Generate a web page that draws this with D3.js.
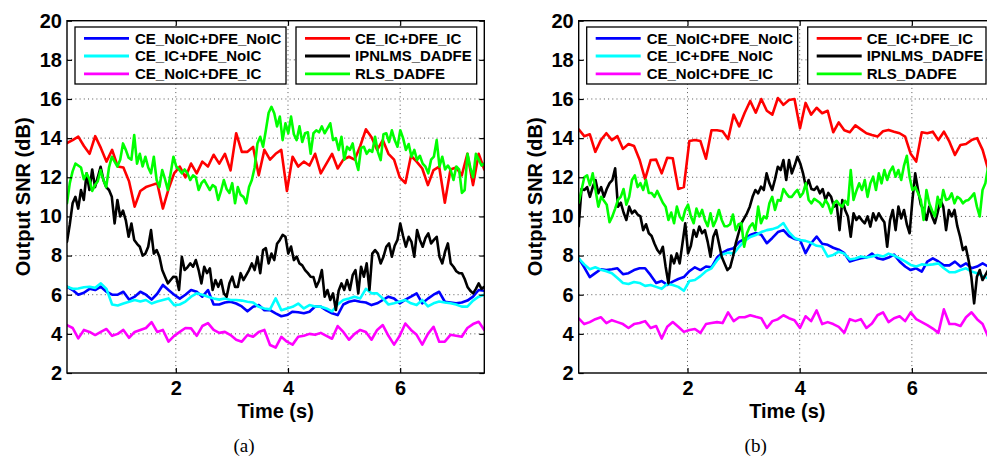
<!DOCTYPE html>
<html><head><meta charset="utf-8">
<script src="https://cdn.jsdelivr.net/npm/d3@7"></script>
<style>body{margin:0;background:#fff;overflow:hidden}svg{display:block}</style>
</head><body>
<svg id="chart" width="987" height="457"></svg>
<script>
// ---------- data ----------
const seriesNames = ["CE_NoIC+DFE_NoIC","CE_IC+DFE_NoIC","CE_NoIC+DFE_IC","CE_IC+DFE_IC","IPNLMS_DADFE","RLS_DADFE"];
const seriesColors = ["#0000ff","#00ffff","#ff00ff","#ff0000","#000000","#00ff00"];
const yTicks = [2,4,6,8,10,12,14,16,18,20];
const xTicks = [2,4,6];
const xDomain = [0.06, 7.5];
const yDomain = [2, 20];
const panelCaptions = ["(a)","(b)"];
const tStartA = 0.06, tEndA = 7.5;
const tStartB = 0.06, tEndB = 7.36;

// panel (a)
const aBlue = [6.41,6.24,6.0,6.1,6.3,6.24,6.41,6.15,6.0,6.0,
6.15,5.75,5.9,6.15,6.0,5.75,6.05,6.5,6.24,6.0,
5.8,6.0,6.24,6.15,5.9,6.24,5.5,5.5,5.6,5.64,
5.55,5.4,5.15,5.38,5.47,5.21,5.21,5.05,4.9,4.96,
5.13,5.1,5.05,5.13,5.4,5.39,5.2,5.05,4.96,5.5,
5.64,5.7,5.64,5.6,5.47,5.56,5.73,5.9,5.81,5.56,
5.75,5.9,6.07,5.56,5.8,6.0,6.15,5.64,5.6,5.56,
5.6,5.7,5.9,6.24,6.2];
const aCyan = [6.41,6.3,6.32,6.38,6.41,6.35,6.58,6.3,5.5,5.45,
5.55,5.64,5.73,5.65,5.73,5.55,5.65,5.73,5.81,5.47,
5.5,5.65,5.9,6.07,6.0,5.9,5.81,5.75,5.81,5.73,
5.73,5.7,5.64,5.6,5.38,5.3,5.25,5.81,5.21,5.3,
5.38,5.55,5.3,5.47,5.4,5.39,5.3,5.15,5.5,5.73,
5.81,5.9,5.81,6.3,6.07,6.07,5.81,5.5,5.56,5.65,
5.73,5.56,5.47,5.73,5.4,5.56,5.65,5.6,5.56,5.5,
5.39,5.39,5.7,5.9,6.0];
const aMagenta = [4.45,4.3,3.77,4.2,4.1,3.94,4.1,4.25,3.9,4.0,
4.2,3.8,4.1,4.2,4.3,4.6,4.1,4.2,3.6,3.9,
4.1,4.3,4.28,3.9,4.4,4.55,4.2,4.05,4.1,3.94,
3.7,3.6,3.94,3.85,4.1,4.2,3.43,3.3,3.85,3.6,
3.45,3.85,3.9,4.0,3.95,4.05,3.9,3.75,4.4,4.1,
3.7,4.0,4.2,4.1,3.7,4.2,4.45,3.9,3.45,3.9,
4.53,4.2,3.95,3.45,4.0,4.36,3.6,3.6,3.95,3.9,
3.85,4.3,4.5,4.62,4.2];
const aRed = [13.75,13.9,14.08,13.6,13.2,14.1,13.5,12.8,13.4,12.55,
12.5,11.8,10.5,11.3,11.5,11.6,11.7,10.4,11.4,12.2,
12.55,12.0,12.7,12.2,12.8,12.55,13.15,12.7,13.2,12.35,
14.25,13.3,13.3,13.55,12.1,13.4,12.9,13.2,13.4,11.3,
13.05,12.55,12.8,12.6,13.2,12.2,12.7,13.2,12.45,12.9,
13.05,12.9,13.6,14.45,14.05,13.4,13.9,13.2,12.9,12.0,
11.7,13.1,12.8,12.45,11.6,12.37,12.54,10.7,12.4,12.5,
12.1,13.2,11.6,13.2,12.4];
const aBlack = [8.7,9.6,10.67,11.0,10.4,11.35,10.84,12.2,11.35,12.4,
11.5,12.0,12.54,11.86,11.5,11.35,11.0,9.64,10.84,10.0,
10.3,9.8,8.96,9.64,8.8,8.6,8.45,8.0,8.1,8.45,
9.3,8.1,8.28,7.94,7.26,6.92,6.58,6.75,6.92,6.9,
6.24,7.94,7.26,7.4,7.6,7.43,7.77,7.26,6.58,7.43,
7.1,7.35,6.24,6.75,6.4,6.75,6.07,5.9,6.58,6.92,
6.4,6.4,7.1,6.75,7.0,7.26,7.6,7.26,7.94,7.1,
8.28,8.38,7.6,8.1,7.77,8.6,8.8,9.06,8.96,8.1,
8.46,7.77,7.95,7.6,7.5,7.26,7.1,6.92,6.9,6.4,
6.7,7.26,5.9,6.24,5.73,6.07,5.22,6.2,6.58,6.24,
6.75,6.24,7.0,7.26,6.07,7.43,6.92,7.6,6.24,8.1,
8.28,8.1,7.6,7.94,8.45,8.62,7.94,8.5,8.8,9.64,
9.0,8.45,8.96,8.7,7.94,9.3,8.8,8.45,8.9,9.13,
8.62,8.8,8.96,7.94,7.6,8.2,8.62,7.6,7.43,7.2,
7.1,7.1,6.8,6.4,6.2,6.07,6.3,6.58,6.3,6.4];
const aGreen = [10.67,11.7,12.3,12.7,12.6,12.5,11.9,12.2,11.9,11.3,
11.6,11.8,12.37,11.86,11.5,12.5,13.05,12.8,12.55,12.9,
13.73,13.4,13.0,12.9,14.16,12.7,13.2,12.55,13.05,12.5,
12.2,13.05,11.86,11.5,12.37,11.9,11.35,12.2,13.05,12.55,
12.4,12.2,12.4,12.2,11.86,12.1,12.0,11.35,11.7,11.86,
11.6,11.35,11.6,11.5,10.84,11.3,11.86,11.4,11.2,11.7,
10.67,11.5,11.1,11.0,10.67,11.5,11.86,12.5,13.73,14.07,
13.56,14.4,15.3,15.6,15.27,14.6,15.1,13.9,14.76,14.25,
15.1,14.2,13.9,14.6,13.8,14.25,14.3,13.2,14.25,14.4,
14.3,14.6,14.25,14.5,14.76,13.9,14.0,13.4,14.07,12.9,
13.56,13.4,13.73,12.9,12.37,13.5,13.56,13.2,13.4,13.3,
14.07,13.3,12.88,14.2,14.25,13.8,14.4,13.9,13.56,14.4,
14.0,13.4,13.7,13.05,13.4,12.88,13.1,12.7,12.54,12.2,
12.9,13.05,13.9,12.55,13.05,12.4,12.6,12.37,11.86,12.55,
12.4,11.2,11.35,13.2,12.5,12.0,13.2,12.9,12.6,12.7];

// panel (b)
const bBlue = [7.86,7.4,6.9,7.1,7.3,7.26,7.3,7.35,7.05,7.1,
7.26,7.35,7.35,7.0,6.6,6.7,6.5,6.67,6.8,6.9,
7.2,7.4,7.26,7.44,7.4,7.9,8.15,8.3,8.38,8.7,
8.85,9.05,9.15,9.06,8.63,8.9,9.2,9.3,9.0,8.85,
8.8,8.12,8.63,8.97,8.6,8.55,8.4,8.3,8.12,7.7,
7.78,7.86,7.9,8.1,7.86,7.8,7.9,8.05,7.7,7.44,
7.26,7.35,7.18,7.69,7.86,7.7,7.5,7.5,7.69,7.44,
7.6,7.35,7.44,7.6,7.44];
const bCyan = [7.86,7.55,7.3,7.4,7.28,7.2,7.1,6.85,6.6,6.55,
6.65,6.6,6.45,6.5,6.4,6.3,6.55,6.5,6.4,6.2,
6.7,6.75,6.95,7.2,7.35,7.75,8.05,8.15,8.1,8.45,
8.75,8.95,9.05,9.2,9.3,9.35,9.45,9.66,9.2,8.9,
8.8,8.75,8.65,8.5,8.46,7.95,8.03,8.2,8.1,7.8,
7.85,7.95,7.9,7.95,8.03,7.95,8.1,8.0,7.86,7.7,
7.52,7.44,7.55,7.52,7.55,7.6,7.35,7.15,7.15,7.26,
7.35,7.18,7.1,6.95,6.84];
const bMagenta = [4.79,4.5,4.6,4.75,4.85,4.55,4.7,4.6,4.5,4.3,
4.5,4.55,4.65,4.3,4.4,3.76,4.36,4.6,4.36,4.1,
4.2,4.25,4.05,4.5,4.55,4.6,4.55,5.1,4.65,4.85,
4.85,4.95,4.87,4.8,4.3,4.65,4.75,4.95,4.8,4.7,
4.3,4.9,4.65,5.2,4.5,4.6,4.5,4.36,4.05,4.75,
4.65,4.75,4.3,4.53,4.95,5.1,4.6,4.8,4.9,4.65,
5.1,4.75,4.6,4.45,4.27,4.05,5.25,4.5,4.5,4.4,
4.85,5.1,4.75,4.5,3.85];
const bRed = [14.45,14.1,14.2,13.3,13.9,14.25,13.9,14.1,13.45,13.7,
13.6,12.9,11.9,12.88,12.9,12.2,13.0,12.97,11.4,11.5,
13.85,13.9,13.85,12.95,14.4,14.4,14.35,13.95,15.2,14.6,
15.3,15.9,15.3,16.0,15.4,15.2,16.05,15.7,15.95,16.0,
14.5,15.8,15.2,15.55,15.27,15.4,14.3,14.8,14.4,14.3,
14.65,14.45,14.25,14.16,14.08,14.35,14.42,14.33,14.25,14.08,
13.2,12.8,14.3,14.25,14.33,13.9,14.33,13.82,13.14,13.65,
13.7,13.9,14.0,13.4,12.4];
const bBlack = [9.5,11.4,11.35,11.5,11.0,11.5,11.86,11.18,11.5,11.0,
11.4,11.7,11.86,12.46,10.5,10.7,10.2,9.82,10.5,10.16,
10.3,10.1,10.0,9.3,9.6,9.14,9.0,8.62,8.3,8.11,
8.45,7.43,6.58,8.0,7.6,8.11,7.6,8.62,9.65,8.11,
8.5,9.3,8.96,9.48,9.14,9.3,8.7,7.94,8.96,9.3,
8.62,7.94,7.6,7.26,7.4,7.94,8.62,9.14,9.65,9.9,
10.16,10.5,11.0,11.35,11.18,11.52,11.35,12.2,11.69,11.35,
11.9,12.54,12.37,12.88,11.86,12.88,12.2,12.6,13.05,12.71,
12.2,11.52,11.86,11.4,11.35,11.52,11.18,11.4,10.84,11.2,
11.0,10.5,10.6,9.3,10.84,10.33,10.0,8.96,10.16,9.82,
10.0,9.8,9.65,10.0,9.48,10.16,9.8,10.16,9.9,9.7,
8.45,9.8,10.33,9.3,10.5,9.9,10.33,9.6,9.14,10.84,
12.2,11.35,10.6,10.33,9.82,10.5,10.0,9.65,10.2,10.84,
10.5,9.3,10.33,10.0,10.33,9.5,8.96,8.28,8.45,7.77,
6.92,5.56,6.92,7.26,6.75,7.0,7.26];
const bGreen = [10.7,11.35,12.0,12.1,11.6,12.2,11.35,10.5,11.0,10.8,
10.6,9.7,10.0,10.4,10.84,11.0,11.4,10.6,11.0,11.86,
12.1,11.5,11.7,11.35,11.86,11.2,11.2,11.0,11.3,11.0,
10.7,10.5,9.82,10.2,9.65,10.5,10.0,9.8,10.33,10.6,
10.0,9.65,10.4,10.0,10.33,9.82,9.5,10.16,9.5,9.82,
10.33,9.82,9.5,9.5,9.6,10.1,9.3,9.6,9.65,8.45,
9.14,9.48,9.65,9.3,10.5,9.65,10.0,9.9,10.67,11.0,
10.33,10.84,10.8,11.4,11.18,11.0,11.0,11.2,11.35,11.0,
11.2,11.69,10.84,10.67,10.9,10.8,10.7,10.5,10.84,10.6,
10.16,10.67,10.8,10.6,10.5,10.8,10.6,12.37,10.84,11.3,
11.69,11.35,11.86,11.0,11.7,12.03,11.35,12.2,11.69,12.37,
11.86,12.3,12.54,12.03,12.37,11.86,12.6,13.1,12.0,11.35,
11.5,11.2,10.84,9.82,11.35,10.67,10.3,10.0,11.0,10.5,
11.35,10.84,10.9,11.18,10.67,11.0,10.9,10.67,10.8,10.84,
11.0,11.18,10.5,10.0,11.35,11.69,12.54];

// ---------- layout ----------
const W = 987, H = 457;
const plotTop = 20.7, plotBottom = 373, plotWidth = 417.3;
const panels = [
  {left: 67, series: [aBlue,aCyan,aMagenta,aRed,aBlack,aGreen], t0: tStartA, t1: tEndA, leg2W: 180.7, caption: panelCaptions[0]},
  {left: 578.7, series: [bBlue,bCyan,bMagenta,bRed,bBlack,bGreen], t0: tStartB, t1: tEndB, leg2W: 178.3, caption: panelCaptions[1]}
];
const sansBold = "'Liberation Sans', Arial, Helvetica, sans-serif";

const svg = d3.select("#chart");
svg.append("rect").attr("width", W).attr("height", H).attr("fill", "#fff");

panels.forEach((p, pi) => {
  const x = d3.scaleLinear().domain(xDomain).range([p.left, p.left + plotWidth]);
  const y = d3.scaleLinear().domain(yDomain).range([plotBottom, plotTop]);
  const g = svg.append("g");
  const clipId = "clip" + pi;
  g.append("clipPath").attr("id", clipId).append("rect")
    .attr("x", p.left).attr("y", plotTop).attr("width", plotWidth).attr("height", plotBottom - plotTop);

  // grid
  const grid = g.append("g").attr("stroke", "#555").attr("stroke-width", 1).attr("stroke-dasharray", "1,3.2");
  yTicks.filter(v => v > yDomain[0] && v < yDomain[1]).forEach(v => {
    grid.append("line").attr("x1", p.left).attr("x2", p.left + plotWidth).attr("y1", y(v)).attr("y2", y(v));
  });
  xTicks.forEach(v => {
    grid.append("line").attr("x1", x(v)).attr("x2", x(v)).attr("y1", plotTop).attr("y2", plotBottom);
  });

  // lines
  const lineGen = d3.line().x(d => x(d[0])).y(d => y(d[1]));
  const lg = g.append("g").attr("clip-path", `url(#${clipId})`);
  p.series.forEach((vals, si) => {
    const n = vals.length;
    const pts = vals.map((v, i) => [p.t0 + i * (p.t1 - p.t0) / (n - 1), v]);
    lg.append("path").datum(pts).attr("d", lineGen)
      .attr("fill", "none").attr("stroke", seriesColors[si])
      .attr("stroke-width", 2.6).attr("stroke-linejoin", "round").attr("stroke-linecap", "round");
  });

  // axes
  const axL = g.append("g").attr("transform", `translate(${p.left},0)`)
    .call(d3.axisLeft(y).tickValues(yTicks).tickSize(-5).tickSizeOuter(0).tickPadding(5).tickFormat(d3.format("d")));
  const axB = g.append("g").attr("transform", `translate(0,${plotBottom})`)
    .call(d3.axisBottom(x).tickValues(xTicks).tickSize(-5).tickSizeOuter(0).tickPadding(8).tickFormat(d3.format("d")));
  const axT = g.append("g").attr("transform", `translate(0,${plotTop})`)
    .call(d3.axisTop(x).tickValues(xTicks).tickSize(-5).tickSizeOuter(0).tickFormat(""));
  const axR = g.append("g").attr("transform", `translate(${p.left + plotWidth},0)`)
    .call(d3.axisRight(y).tickValues(yTicks).tickSize(-5).tickSizeOuter(0).tickFormat(""));
  [axL, axB, axT, axR].forEach(a => {
    a.select(".domain").remove();
    a.selectAll(".tick line").attr("stroke", "#000").attr("stroke-width", 1.2);
    a.selectAll("text").attr("font-family", sansBold).attr("font-weight", "bold")
      .attr("font-size", 20).attr("fill", "#000");
  });
  g.append("rect").attr("x", p.left).attr("y", plotTop).attr("width", plotWidth).attr("height", plotBottom - plotTop)
    .attr("fill", "none").attr("stroke", "#000").attr("stroke-width", 1.4);

  // axis labels
  g.append("text").attr("x", p.left + plotWidth / 2).attr("y", 417.5).attr("text-anchor", "middle")
    .attr("font-family", sansBold).attr("font-weight", "bold").attr("font-size", 20).text("Time (s)");
  g.append("text").attr("transform", `translate(${p.left - 37},${(plotTop + plotBottom) / 2}) rotate(-90)`)
    .attr("text-anchor", "middle")
    .attr("font-family", sansBold).attr("font-weight", "bold").attr("font-size", 20).text("Output SNR (dB)");

  // caption
  g.append("text").attr("x", p.left + 177).attr("y", 452).attr("text-anchor", "middle")
    .attr("font-family", "'Liberation Serif', 'Times New Roman', serif").attr("font-size", 19).text(p.caption);

  // legends
  const boxes = [
    {x: p.left + 8, w: 211, items: [0, 1, 2], textOff: 60},
    {x: p.left + 229, w: p.leg2W, items: [3, 4, 5], textOff: 59}
  ];
  const rowY = [38.3, 56, 73.8];
  boxes.forEach(b => {
    const lgd = g.append("g");
    lgd.append("rect").attr("x", b.x).attr("y", 27).attr("width", b.w).attr("height", 57)
      .attr("fill", "#fff").attr("stroke", "#000").attr("stroke-width", 1.3);
    b.items.forEach((si, r) => {
      lgd.append("line").attr("x1", b.x + 9).attr("x2", b.x + 54).attr("y1", rowY[r]).attr("y2", rowY[r])
        .attr("stroke", seriesColors[si]).attr("stroke-width", 2.8);
      lgd.append("text").attr("x", b.x + b.textOff).attr("y", rowY[r] + 5.4)
        .attr("font-family", sansBold).attr("font-weight", "bold").attr("font-size", 15).text(seriesNames[si]);
    });
  });
});
</script>
</body></html>
